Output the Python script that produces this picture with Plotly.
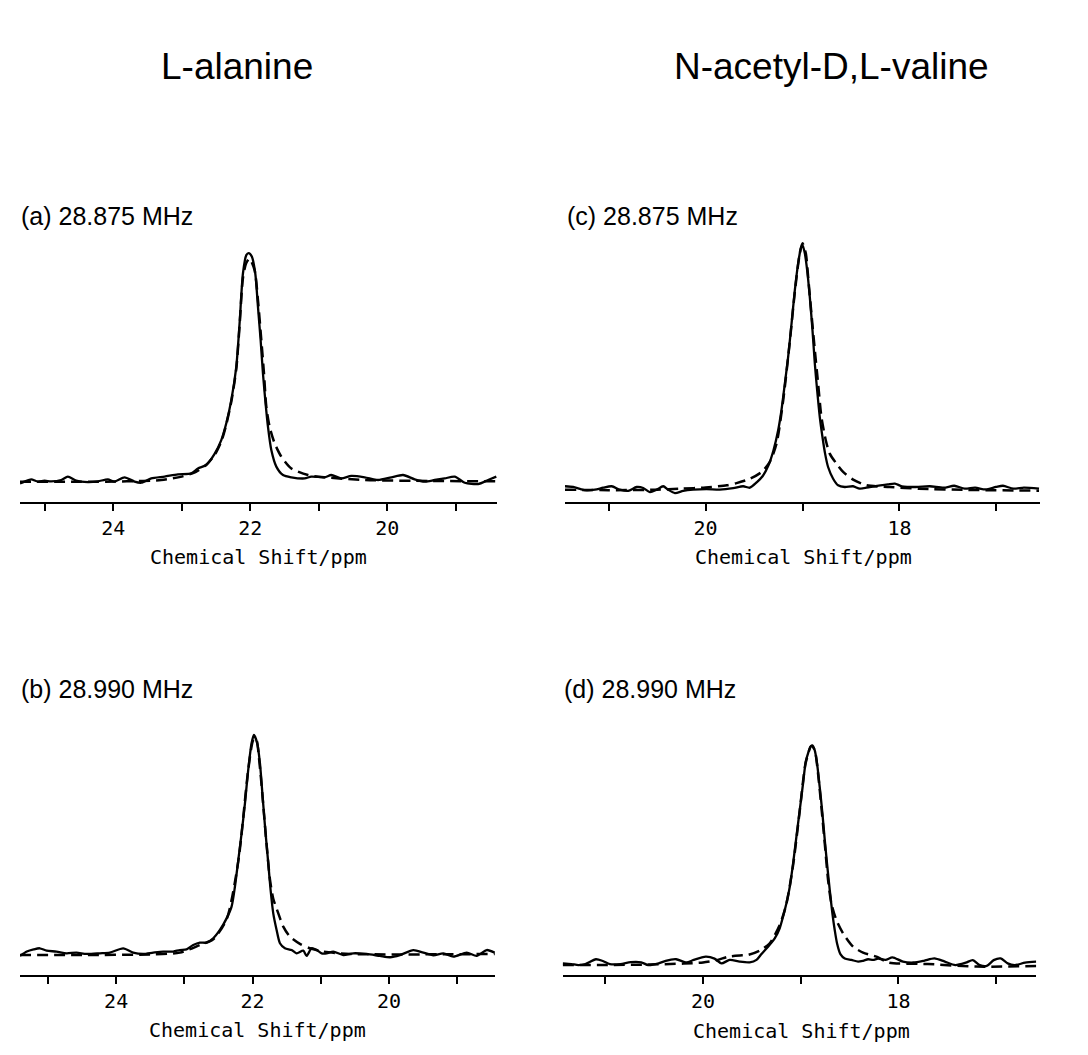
import plotly.graph_objects as go

# ---------------- data (ppm, normalised intensity) ----------------
# (a) L-alanine, 28.875 MHz
A_SOLID_X = [25.36, 25.294, 25.197, 25.100, 25.002, 24.905, 24.759, 24.662, 24.540, 24.370, 24.224, 24.078,
             23.981, 23.835, 23.689, 23.591, 23.445, 23.251, 23.056, 22.861, 22.764, 22.642, 22.521, 22.423,
             22.350, 22.277, 22.204, 22.156, 22.107, 22.058, 22.024, 21.976, 21.927, 21.888, 21.849, 21.815,
             21.781, 21.742, 21.693, 21.620, 21.523, 21.401, 21.207, 21.110, 20.915, 20.818, 20.672, 20.526,
             20.331, 20.136, 19.942, 19.771, 19.601, 19.455, 19.309, 19.163, 19.017, 18.871, 18.676, 18.530, 18.41]
A_SOLID_Y = [-0.015, -0.007, 0.003, -0.007, -0.003, -0.006, 0.0, 0.015, -0.003, -0.009, -0.006, 0.003,
             -0.007, 0.012, -0.007, -0.012, 0.007, 0.015, 0.025, 0.029, 0.051, 0.066, 0.115, 0.176,
             0.250, 0.352, 0.499, 0.690, 0.910, 0.991, 1.0, 0.984, 0.910, 0.764, 0.617, 0.470,
             0.352, 0.235, 0.132, 0.059, 0.022, 0.012, 0.007, 0.015, 0.012, 0.022, 0.007, 0.018,
             0.012, 0.0, 0.012, 0.022, 0.003, -0.007, 0.0, 0.007, 0.015, -0.012, -0.018, 0.0, 0.015]
A_SIM_X = [25.36, 24.5, 23.8, 23.3, 23.0, 22.8, 22.65, 22.52, 22.42, 22.35, 22.277, 22.204, 22.156, 22.107,
           22.06, 22.01, 21.937, 21.888, 21.839, 21.800, 21.766, 21.718, 21.645, 21.547, 21.401, 21.158,
           20.915, 20.33, 19.36, 18.41]
A_SIM_Y = [-0.008, -0.008, -0.006, 0.0, 0.015, 0.035, 0.065, 0.11, 0.172, 0.245, 0.345, 0.49, 0.68, 0.89,
           0.955, 0.975, 0.925, 0.793, 0.617, 0.470, 0.323, 0.235, 0.162, 0.103, 0.051, 0.022,
           0.012, 0.0, -0.004, -0.006]

# (b) L-alanine, 28.990 MHz
B_SOLID_X = [25.41, 25.31, 25.21, 25.12, 25.02, 24.875, 24.729, 24.582, 24.435, 24.240, 24.093, 23.897,
             23.751, 23.604, 23.457, 23.311, 23.164, 23.066, 22.968, 22.870, 22.773, 22.675, 22.577, 22.479,
             22.381, 22.308, 22.259, 22.210, 22.161, 22.112, 22.064, 22.015, 21.980, 21.932, 21.892, 21.853,
             21.814, 21.770, 21.736, 21.697, 21.648, 21.599, 21.526, 21.428, 21.355, 21.257, 21.208, 21.134,
             21.061, 20.988, 20.914, 20.817, 20.670, 20.523, 20.328, 20.132, 19.985, 19.839, 19.643, 19.496,
             19.350, 19.203, 19.056, 18.861, 18.714, 18.567, 18.45]
B_SOLID_Y = [-0.012, 0.008, 0.018, 0.023, 0.012, 0.008, 0.0, 0.003, -0.003, 0.0, 0.003, 0.023,
             0.003, -0.003, 0.003, 0.008, 0.008, 0.015, 0.018, 0.038, 0.049, 0.049, 0.069, 0.107,
             0.160, 0.214, 0.305, 0.427, 0.550, 0.687, 0.840, 0.962, 1.0, 0.962, 0.870, 0.718,
             0.565, 0.412, 0.290, 0.183, 0.107, 0.046, 0.023, 0.015, 0.0, 0.012, -0.012, 0.023,
             0.015, 0.0, 0.0, 0.008, -0.008, 0.0, -0.003, -0.012, -0.018, -0.008, 0.015, 0.003,
             -0.009, 0.0, -0.015, 0.003, -0.012, 0.015, 0.003]
B_SIM_X = [25.41, 24.5, 23.5, 23.066, 22.773, 22.577, 22.381, 22.210, 22.064, 21.990, 21.951, 21.892,
           21.844, 21.795, 21.746, 21.697, 21.623, 21.550, 21.452, 21.306, 21.159, 20.963, 20.572, 18.45]
B_SIM_Y = [-0.008, -0.008, -0.005, 0.003, 0.038, 0.064, 0.156, 0.420, 0.840, 0.977, 0.985, 0.85,
           0.68, 0.50, 0.34, 0.25, 0.183, 0.122, 0.076, 0.043, 0.023, 0.008, -0.003, -0.003]

# (c) N-acetyl-D,L-valine, 28.875 MHz
C_SOLID_X = [21.45, 21.365, 21.296, 21.227, 21.141, 21.056, 20.969, 20.884, 20.798, 20.711, 20.643, 20.574,
             20.505, 20.437, 20.386, 20.316, 20.231, 20.128, 19.990, 19.853, 19.715, 19.612, 19.543, 19.47,
             19.41, 19.35, 19.30, 19.251, 19.217, 19.182, 19.148, 19.113, 19.079, 19.045, 19.017, 19.000,
             18.976, 18.952, 18.925, 18.897, 18.873, 18.849, 18.822, 18.794, 18.767, 18.736, 18.684, 18.633,
             18.564, 18.478, 18.409, 18.306, 18.119, 18.047, 17.975, 17.831, 17.687, 17.543, 17.435, 17.327,
             17.219, 17.112, 17.004, 16.932, 16.824, 16.716, 16.56]
C_SOLID_Y = [0.003, 0.0, -0.008, -0.014, -0.011, -0.003, 0.003, -0.011, -0.016, 0.0, -0.004, -0.021,
             -0.011, 0.003, -0.011, -0.025, -0.016, -0.011, -0.009, -0.011, -0.005, 0.003, -0.003, 0.02,
             0.045, 0.09, 0.15, 0.233, 0.315, 0.425, 0.534, 0.671, 0.808, 0.918, 0.979, 0.993,
             0.959, 0.890, 0.781, 0.644, 0.507, 0.397, 0.288, 0.205, 0.137, 0.082, 0.034, 0.007,
             0.0, 0.003, -0.007, 0.0, 0.011, 0.014, 0.003, 0.0, 0.003, -0.003, 0.005, -0.007,
             -0.003, -0.010, 0.0, 0.005, -0.007, -0.003, -0.007]
C_SIM_X = [21.45, 21.0, 20.5, 20.25, 20.0, 19.78, 19.68, 19.54, 19.42, 19.337, 19.268, 19.199, 19.131,
           19.079, 19.028, 19.000, 18.966, 18.942, 18.908, 18.873, 18.839, 18.805, 18.760, 18.719, 18.650,
           18.581, 18.478, 18.340, 18.1, 17.8, 17.3, 16.56]
C_SIM_Y = [-0.011, -0.013, -0.011, -0.007, -0.002, 0.007, 0.016, 0.034, 0.062, 0.103, 0.178, 0.356, 0.596,
           0.801, 0.959, 1.0, 0.959, 0.863, 0.712, 0.562, 0.425, 0.288, 0.192, 0.137, 0.096,
           0.062, 0.030, 0.007, 0.0, -0.007, -0.012, -0.015]

# (d) N-acetyl-D,L-valine, 28.990 MHz
D_SOLID_X = [21.436, 21.346, 21.275, 21.204, 21.096, 21.025, 20.954, 20.846, 20.739, 20.632, 20.561, 20.454,
             20.382, 20.275, 20.168, 20.096, 19.971, 19.882, 19.811, 19.727, 19.624, 19.522, 19.453, 19.402,
             19.334, 19.266, 19.215, 19.181, 19.147, 19.112, 19.078, 19.044, 19.010, 18.976, 18.949, 18.925,
             18.901, 18.881, 18.857, 18.833, 18.806, 18.778, 18.754, 18.731, 18.703, 18.676, 18.652, 18.628,
             18.594, 18.549, 18.481, 18.413, 18.362, 18.310, 18.259, 18.208, 18.132, 18.061, 17.954, 17.846,
             17.739, 17.632, 17.525, 17.418, 17.311, 17.239, 17.168, 17.096, 17.025, 16.954, 16.882, 16.811,
             16.704, 16.59]
D_SOLID_Y = [-0.004, -0.007, -0.012, -0.007, 0.015, 0.007, -0.007, -0.007, 0.002, 0.001, -0.012, -0.004,
             0.008, 0.015, 0.0, 0.012, 0.027, 0.018, -0.004, 0.012, 0.004, 0.001, 0.012, 0.039,
             0.073, 0.111, 0.158, 0.212, 0.273, 0.350, 0.458, 0.581, 0.704, 0.828, 0.927, 0.966,
             0.997, 1.003, 0.981, 0.920, 0.812, 0.689, 0.566, 0.458, 0.335, 0.227, 0.150, 0.088,
             0.039, 0.019, 0.012, 0.004, 0.008, 0.015, 0.012, 0.018, 0.012, 0.024, 0.004, 0.0,
             0.008, 0.019, 0.004, -0.012, -0.001, 0.011, -0.012, -0.016, 0.011, 0.019, -0.004, -0.012,
             -0.001, 0.004]
D_SIM_X = [21.436, 20.6, 20.2, 20.0, 19.85, 19.74, 19.6, 19.539, 19.42, 19.317, 19.215, 19.147, 19.078,
           19.010, 18.950, 18.891, 18.857, 18.823, 18.789, 18.754, 18.720, 18.686, 18.635, 18.567, 18.464,
           18.362, 18.225, 18.1, 17.7, 17.2, 16.59]
D_SIM_Y = [-0.012, -0.010, -0.005, 0.0, 0.012, 0.027, 0.033, 0.035, 0.055, 0.089, 0.173, 0.27, 0.45,
           0.70, 0.92, 1.0, 0.981, 0.874, 0.720, 0.550, 0.381, 0.273, 0.196, 0.135, 0.073,
           0.046, 0.027, 0.0, -0.007, -0.019, -0.016]

COLUMN_TITLES = ["L-alanine", "N-acetyl-D,L-valine"]
PANEL_LABELS = ["(a) 28.875 MHz", "(b) 28.990 MHz", "(c) 28.875 MHz", "(d) 28.990 MHz"]
AXIS_TITLE = "Chemical Shift/ppm"

# ---------------- layout geometry ----------------
W, H = 1088, 1055


def fx(px):
    return px / W


def fy(py):
    return 1 - py / H


panels = [
    dict(s=(A_SOLID_X, A_SOLID_Y), d=(A_SIM_X, A_SIM_Y), xp=(20, 497), xr=(25.36, 18.40),
         yp=(212, 502), yr=(-0.0969, 1.181), ticks=range(19, 26)),
    dict(s=(B_SOLID_X, B_SOLID_Y), d=(B_SIM_X, B_SIM_Y), xp=(20, 495), xr=(25.41, 18.446),
         yp=(685, 975), yr=(-0.0994, 1.229), ticks=range(19, 26)),
    dict(s=(C_SOLID_X, C_SOLID_Y), d=(C_SIM_X, C_SIM_Y), xp=(565, 1040), xr=(21.45, 16.55),
         yp=(212, 502), yr=(-0.0616, 1.1286), ticks=range(17, 22)),
    dict(s=(D_SOLID_X, D_SOLID_Y), d=(D_SIM_X, D_SIM_Y), xp=(562.7, 1036.3), xr=(21.436, 16.589),
         yp=(685, 975), yr=(-0.0577, 1.2818), ticks=range(17, 22)),
]

fig = go.Figure()
layout = dict(width=W, height=H, margin=dict(l=0, r=0, t=0, b=0),
              paper_bgcolor="white", plot_bgcolor="white", showlegend=False)

for i, p in enumerate(panels, start=1):
    xa = "x" if i == 1 else f"x{i}"
    ya = "y" if i == 1 else f"y{i}"
    fig.add_trace(go.Scatter(x=p["s"][0], y=p["s"][1], mode="lines", xaxis=xa, yaxis=ya,
                             line=dict(color="black", width=2.3, shape="spline", smoothing=0.7),
                             hoverinfo="skip"))
    fig.add_trace(go.Scatter(x=p["d"][0], y=p["d"][1], mode="lines", xaxis=xa, yaxis=ya,
                             line=dict(color="black", width=2.5, dash="11px,6px", shape="spline",
                                       smoothing=0.7),
                             hoverinfo="skip"))
    tv = list(p["ticks"])
    tt = [str(v) if v % 2 == 0 else "" for v in tv]
    layout["xaxis" if i == 1 else f"xaxis{i}"] = dict(
        domain=[fx(p["xp"][0]), fx(p["xp"][1])], range=list(p["xr"]), anchor=ya,
        showline=True, linecolor="black", linewidth=2, ticks="outside", ticklen=7, tickwidth=2,
        tickcolor="black", tickvals=tv, ticktext=tt, showgrid=False, zeroline=False,
        tickfont=dict(family="DejaVu Sans Mono", size=20, color="black"), fixedrange=True)
    layout["yaxis" if i == 1 else f"yaxis{i}"] = dict(
        domain=[fy(p["yp"][1]), fy(p["yp"][0])], range=list(p["yr"]), anchor=xa,
        visible=False, showgrid=False, zeroline=False, fixedrange=True)

fig.update_layout(**layout)

ann = []
# column titles
for txt, cx in zip(COLUMN_TITLES, [237, 831]):
    ann.append(dict(text=txt, x=fx(cx), y=fy(67), xref="paper", yref="paper", showarrow=False,
                    xanchor="center", yanchor="middle",
                    font=dict(family="Liberation Sans", size=37, color="black")))
# panel labels
for txt, (lx, ly) in zip(PANEL_LABELS, [(19, 216), (19, 689), (565, 216), (562, 689)]):
    ann.append(dict(text=txt, x=fx(lx), y=fy(ly), xref="paper", yref="paper", showarrow=False,
                    xanchor="left", yanchor="middle",
                    font=dict(family="Liberation Sans", size=25, color="black")))
# axis titles
for (cx, cy) in [(258, 557), (257, 1030), (803, 557), (801, 1031)]:
    ann.append(dict(text=AXIS_TITLE, x=fx(cx), y=fy(cy), xref="paper", yref="paper", showarrow=False,
                    xanchor="center", yanchor="middle",
                    font=dict(family="DejaVu Sans Mono", size=20, color="black")))
fig.update_layout(annotations=ann)

fig.write_html("out.html")
